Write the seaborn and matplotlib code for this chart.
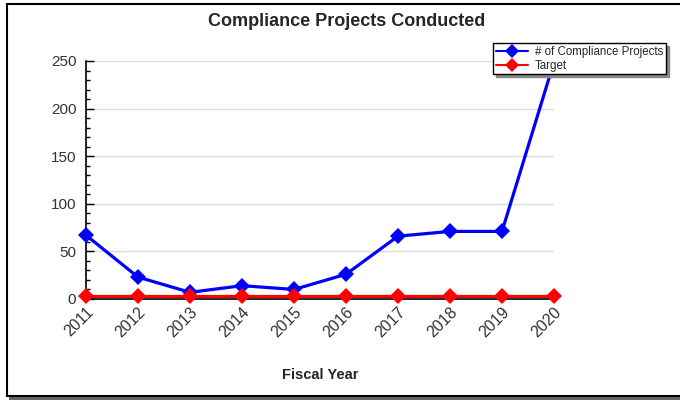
import matplotlib
matplotlib.use("Agg")
import matplotlib.pyplot as plt
import seaborn as sns
import pandas as pd
from matplotlib.patches import Rectangle
from matplotlib.ticker import MultipleLocator
from matplotlib.transforms import ScaledTranslation

years = [2011, 2012, 2013, 2014, 2015, 2016, 2017, 2018, 2019, 2020]
projects = [67, 23, 7, 14, 10, 26, 66, 71, 71, 249]
target = [3, 3, 3, 3, 3, 3, 3, 3, 3, 3]
series_names = ["# of Compliance Projects", "Target"]
title = "Compliance Projects Conducted"
xlabel = "Fiscal Year"

sns.set_theme(style="white")
plt.rcParams['font.family'] = ['Liberation Sans', 'DejaVu Sans']

df = pd.DataFrame({
    "year": years * 2,
    "value": projects + target,
    "series": [series_names[0]] * len(years) + [series_names[1]] * len(years),
})

W, H = 680, 400
fig = plt.figure(figsize=(W / 100, H / 100), dpi=100)
ax = fig.add_axes([86 / W, 1 - 299 / H, (554 - 86) / W, (299 - 61) / H])

sns.lineplot(data=df, x="year", y="value", hue="series",
             palette={series_names[0]: "#0000ff", series_names[1]: "#ff0000"},
             marker="D", markersize=8, markeredgewidth=0, linewidth=2.3,
             ax=ax, legend=True, clip_on=False, zorder=3)

ax.set_xlim(2011, 2020)
ax.set_ylim(0, 250)
ax.set_xticks(years)
ax.set_xticklabels([str(y) for y in years], rotation=45, ha="right", va="top",
                   rotation_mode="anchor", fontsize=11.5, color="#333333")
shift = ScaledTranslation(-3 / 100, 0, fig.dpi_scale_trans)
for lbl in ax.get_xticklabels():
    lbl.set_transform(lbl.get_transform() + shift)
ax.yaxis.set_major_locator(MultipleLocator(50))
ax.yaxis.set_minor_locator(MultipleLocator(10))
ax.tick_params(axis="y", which="major", direction="in", length=6, width=1,
               color="black", labelsize=11, labelcolor="#333333", left=True, pad=7)
ax.tick_params(axis="y", which="minor", direction="in", length=3, width=1,
               color="black", left=True)
ax.tick_params(axis="x", which="major", direction="in", length=5, width=1,
               color="black", bottom=True, pad=4)
ax.grid(axis="y", color="#dddddd", linewidth=1)
ax.set_axisbelow(True)
for s in ["top", "right"]:
    ax.spines[s].set_visible(False)
for s in ["left", "bottom"]:
    ax.spines[s].set_color("black")
    ax.spines[s].set_linewidth(1.2)
ax.set_xlabel(xlabel, fontsize=10.5, fontweight="bold", labelpad=20)
ax.set_ylabel("")

leg = ax.legend(loc="upper left", bbox_to_anchor=(493 / W, 1 - 43 / H),
                bbox_transform=fig.transFigure, fontsize=8.3, frameon=True,
                fancybox=False, shadow={"color": "#888888", "alpha": 1},
                borderpad=0.25, labelspacing=0.15, handlelength=2.8,
                handletextpad=0.6, borderaxespad=0)
leg.get_frame().set_edgecolor("black")
leg.get_frame().set_linewidth(1)
for ln in leg.get_lines():
    ln.set_linewidth(1.5)
    ln.set_markersize(7)
leg.set_zorder(10)

fig.text(0.51, 1 - 21.5 / H, title, ha="center", va="center",
         fontsize=13, fontweight="bold")

# outer border with drop shadow (no right edge visible)
fig.patches.append(Rectangle((9 / W, 0), 1.1, 4.5 / H,
                             transform=fig.transFigure, facecolor="#666666",
                             edgecolor="none", zorder=-2))
fig.patches.append(Rectangle((6.5 / W, 1 - 395.5 / H), 1.1, (395.5 - 3.5) / H,
                             transform=fig.transFigure, facecolor="white",
                             edgecolor="black", linewidth=1.5, zorder=-1))

fig.savefig("out.png", dpi=100)
